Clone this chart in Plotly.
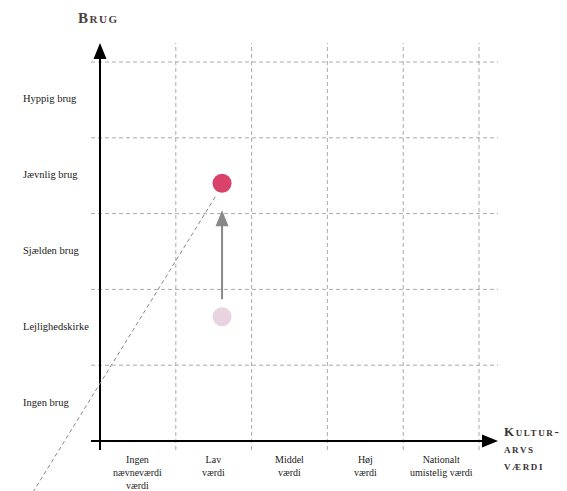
import plotly.graph_objects as go

# ---- data ----
x_categories = ["Ingen<br>nævneværdi<br>værdi", "Lav<br>værdi", "Middel<br>værdi",
                "Høj<br>værdi", "Nationalt<br>umistelig værdi"]
y_categories = ["Ingen brug", "Lejlighedskirke", "Sjælden brug", "Jævnlig brug", "Hyppig brug"]
x_title = "Kultur-<br>arvs<br>værdi"
y_title = "Brug"

before_x, before_y = [1.61], [1.64]
after_x, after_y = [1.61], [3.40]
trend_x = [1.52, -0.90]
trend_y = [3.22, -0.70]

# ---- geometry (pixel mapping: 75.8 px per category; page has 8px body margin) ----
OFF = 8
U = 75.8
X0, Y0 = 100, 441
W, H = 567 - OFF, 491 - OFF
def px(xp): return (xp - X0) / U
def py(yp): return (Y0 - yp) / U

FONT = "Liberation Serif"
fig = go.Figure()

shapes = []
nx, ny = len(x_categories), len(y_categories)
top = py(43)
right = px(498)
for i in range(1, nx + 1):
    shapes.append(dict(type="line", xref="x", yref="y", x0=i, x1=i, y0=py(450), y1=top,
                       line=dict(color="#aaaaaa", width=1, dash="4px,3px"), layer="below"))
for j in range(1, ny + 1):
    shapes.append(dict(type="line", xref="x", yref="y", x0=px(91), x1=right, y0=j, y1=j,
                       line=dict(color="#aaaaaa", width=1, dash="4px,3px"), layer="below"))
shapes.append(dict(type="line", xref="x", yref="y", x0=px(91), x1=right - 8 / U, y0=0, y1=0,
                   line=dict(color="#000", width=2)))
shapes.append(dict(type="line", xref="x", yref="y", x0=0, x1=0, y0=py(450), y1=top - 8 / U,
                   line=dict(color="#000", width=2)))
hl, hw = 16 / U, 6.5 / U
shapes.append(dict(type="path", xref="x", yref="y",
                   path=f"M {right} 0 L {right-hl} {hw} L {right-hl} {-hw} Z",
                   fillcolor="#000", line=dict(width=0)))
shapes.append(dict(type="path", xref="x", yref="y",
                   path=f"M 0 {top} L {hw} {top-hl} L {-hw} {top-hl} Z",
                   fillcolor="#000", line=dict(width=0)))
shapes.append(dict(type="line", xref="x", yref="y", x0=trend_x[0], y0=trend_y[0],
                   x1=trend_x[1], y1=trend_y[1],
                   line=dict(color="#888888", width=1, dash="4px,3px")))
ax = before_x[0]
a_start = before_y[0] + 17.5 / U
a_tip = after_y[0] - 27 / U
ah = 16 / U
shapes.append(dict(type="line", xref="x", yref="y", x0=ax, x1=ax, y0=a_start, y1=a_tip - ah + 0.01,
                   line=dict(color="#888888", width=2)))
shapes.append(dict(type="path", xref="x", yref="y",
                   path=f"M {ax} {a_tip} L {ax+hw} {a_tip-ah} L {ax-hw} {a_tip-ah} Z",
                   fillcolor="#888888", line=dict(width=0)))
fig.update_layout(shapes=shapes)

fig.add_trace(go.Scatter(x=before_x, y=before_y, mode="markers",
                         marker=dict(size=19, color="#e8d3e0", line=dict(width=0)),
                         hoverinfo="skip"))
fig.add_trace(go.Scatter(x=after_x, y=after_y, mode="markers",
                         marker=dict(size=19, color="#d9426a", line=dict(width=0)),
                         hoverinfo="skip"))

ann = []
for j, lab in enumerate(y_categories):
    ann.append(dict(x=px(21), y=j + 0.5 + 1 / U, text=lab, showarrow=False, xanchor="left",
                    yanchor="middle", font=dict(family=FONT, size=10.5, color="#1a1a1a")))
for i, lab in enumerate(x_categories):
    ann.append(dict(x=i + 0.5, y=py(452), text=lab, showarrow=False, xanchor="center",
                    yanchor="top", align="center",
                    font=dict(family=FONT, size=10, color="#1a1a1a")))
ann.append(dict(x=px(76), y=py(18), text=f"<b><span style='letter-spacing:1.5px'>{y_title}</span></b>",
                showarrow=False, xanchor="left", yanchor="middle",
                font=dict(family=FONT, size=15, color="#4a4040", variant="small-caps")))
ann.append(dict(x=px(502), y=py(448), text=f"<b><span style='letter-spacing:1.6px'>{x_title}</span></b>",
                showarrow=False, xanchor="left", yanchor="middle", align="left",
                font=dict(family=FONT, size=13, color="#3a3333", variant="small-caps")))
fig.update_layout(annotations=ann)

fig.update_layout(
    width=W, height=H, margin=dict(l=0, r=0, t=0, b=0),
    paper_bgcolor="white", plot_bgcolor="white", showlegend=False,
    xaxis=dict(range=[px(OFF), px(567)], visible=False, fixedrange=True),
    yaxis=dict(range=[py(491), py(OFF)], visible=False, fixedrange=True),
)
fig.write_html("out.html")
